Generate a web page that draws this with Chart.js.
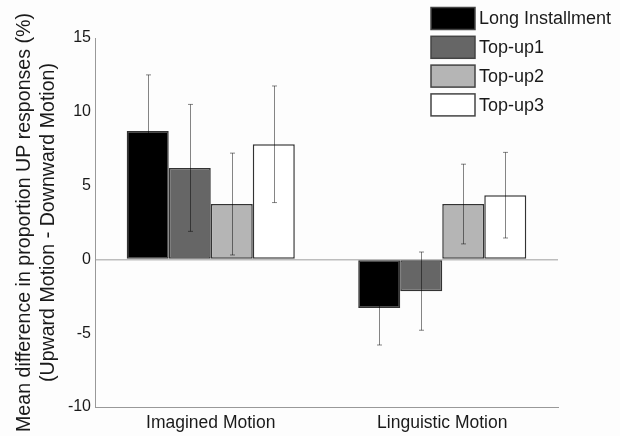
<!DOCTYPE html>
<html>
<head>
<meta charset="utf-8">
<script src="https://cdn.jsdelivr.net/npm/chart.js@4"></script>
<style>
  html, body { margin: 0; padding: 0; background: #fdfdfd; }
  #wrap { width: 620px; height: 436px; }
</style>
</head>
<body>
<div id="wrap"><canvas id="grafico"></canvas></div>
<script>
const categorias = ["Imagined Motion", "Linguistic Motion"];
const series = ["Long Installment", "Top-up1", "Top-up2", "Top-up3"];
const longInstallment = [8.7, -3.3];
const topUp1 = [6.2, -2.15];
const topUp2 = [3.75, 3.75];
const topUp3 = [7.8, 4.35];
const errLong = [3.8, 2.5];
const errTop1 = [4.3, 2.65];
const errTop2 = [3.45, 2.7];
const errTop3 = [3.95, 2.9];
const yTicks = [15, 10, 5, 0, -5, -10];

const colores = ["#000000", "#666666", "#b5b5b5", "#ffffff"];
const valores = [longInstallment, topUp1, topUp2, topUp3];
const errores = [errLong, errTop1, errTop2, errTop3];
const fuente = "'Liberation Sans', Arial, Helvetica, sans-serif";

// barras de error (semitransparentes: no se ven sobre el negro)
const errorBars = {
  id: "errorBars",
  afterDatasetsDraw(chart) {
    const ctx = chart.ctx;
    const y = chart.scales.y;
    ctx.save();
    ctx.strokeStyle = "rgba(0,0,0,0.48)";
    ctx.lineWidth = 1;
    chart.data.datasets.forEach((ds, i) => {
      const meta = chart.getDatasetMeta(i);
      meta.data.forEach((bar, j) => {
        const v = ds.data[j];
        const e = ds.errores[j];
        const top = y.getPixelForValue(v + e);
        const bot = y.getPixelForValue(v - e);
        const x = Math.round(bar.x) + 0.5;
        ctx.beginPath();
        ctx.moveTo(x, top);
        ctx.lineTo(x, bot);
        ctx.moveTo(x - 2.5, top);
        ctx.lineTo(x + 2.5, top);
        ctx.moveTo(x - 2.5, bot);
        ctx.lineTo(x + 2.5, bot);
        ctx.stroke();
      });
    });
    ctx.restore();
  }
};

// leyenda en la esquina superior derecha
const leyenda = {
  id: "leyenda",
  afterDraw(chart) {
    const ctx = chart.ctx;
    ctx.save();
    ctx.font = "18px " + fuente;
    ctx.textBaseline = "middle";
    series.forEach((nombre, i) => {
      const top = 7.5 + i * 28.8;
      ctx.fillStyle = colores[i];
      ctx.fillRect(431, top, 44, 22);
      ctx.strokeStyle = "#444";
      ctx.lineWidth = 1.5;
      ctx.strokeRect(431, top, 44, 22);
      ctx.fillStyle = "#1a1a1a";
      ctx.fillText(nombre, 479, top + 12);
    });
    ctx.restore();
  }
};

const datasets = series.map((nombre, i) => ({
  label: nombre,
  data: valores[i],
  errores: errores[i],
  backgroundColor: colores[i],
  borderColor: "#333333",
  borderWidth: 1.5,
  borderSkipped: false,
  barPercentage: 1,
  categoryPercentage: 0.726
}));

new Chart(document.getElementById("grafico"), {
  type: "bar",
  data: { labels: categorias, datasets: datasets },
  options: {
    responsive: true,
    maintainAspectRatio: false,
    animation: false,
    layout: { padding: { top: 38, right: 62, left: 0, bottom: 0 } },
    plugins: {
      legend: { display: false },
      tooltip: { enabled: false }
    },
    scales: {
      x: {
        grid: { display: false, drawTicks: false },
        border: { display: true, color: "#999999", width: 1 },
        ticks: { color: "#1a1a1a", font: { family: fuente, size: 17.5 }, padding: 6 },
        afterFit(scale) { scale.height = 29; }
      },
      y: {
        min: -10,
        max: 15,
        afterBuildTicks(scale) { scale.ticks = yTicks.map(v => ({ value: v })); },
        grid: {
          drawTicks: false,
          color: c => (c.tick && c.tick.value === 0 ? "#bdbdbd" : "rgba(0,0,0,0)"),
          lineWidth: 1.5
        },
        border: { display: true, color: "#999999", width: 1 },
        ticks: { color: "#1a1a1a", font: { family: fuente, size: 16 }, padding: 4 },
        title: {
          display: true,
          text: ["Mean difference in proportion UP responses (%)", "(Upward Motion - Downward Motion)"],
          color: "#1a1a1a",
          font: { family: fuente, size: 19.6, lineHeight: 1.22 },
          padding: { top: 13, bottom: 0 }
        },
        afterFit(scale) { scale.width = 95; }
      }
    }
  },
  plugins: [errorBars, leyenda]
});
</script>
</body>
</html>
